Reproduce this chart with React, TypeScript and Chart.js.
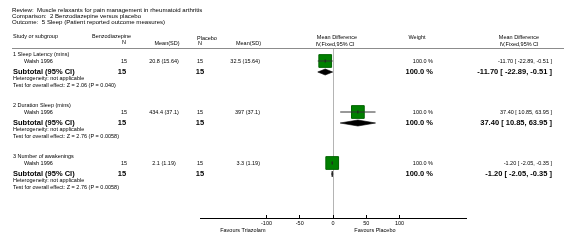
import React, { useEffect, useRef } from "react";
import { Chart, registerables } from "chart.js";

Chart.register(...registerables);

// ---- Data ----
const reviewTitle = "Review:  Muscle relaxants for pain management in rheumatoid arthritis";
const comparisonTitle = "Comparison:  2 Benzodiazepine versus placebo";
const outcomeTitle = "Outcome:  5 Sleep (Patient reported outcome measures)";

const treatLabel = "Benzodiazepine";
const controlLabel = "Placebo";

const subgroups = ["1 Sleep Latency (mins)", "2 Duration Sleep (mins)", "3 Number of awakenings"];
const studyNames = ["Walsh 1996", "Walsh 1996", "Walsh 1996"];
const treatN = [15, 15, 15];
const treatMean = ["20.8", "434.4", "2.1"];
const treatSD = ["15.64", "37.1", "1.19"];
const controlN = [15, 15, 15];
const controlMean = ["32.5", "397", "3.3"];
const controlSD = ["15.64", "37.1", "1.19"];
const meanDiff = [-11.7, 37.4, -1.2];
const ciLow = [-22.89, 10.85, -2.05];
const ciHigh = [-0.51, 63.95, -0.35];
const weights = [100.0, 100.0, 100.0];
const heterogeneityText = ["not applicable", "not applicable", "not applicable"];
const zValues = ["2.06", "2.76", "2.76"];
const pValues = ["0.040", "0.0058", "0.0058"];

const xTicks = [-100, -50, 0, 50, 100];
const leftFavours = "Favours Triazolam";
const rightFavours = "Favours Placebo";

// ---- Layout (row units = px inside plot area) ----
const ROW_FIRST_STUDY = 13;
const ROW_GROUP_STRIDE = 51;
const rowOf = (g: number, off: number) => ROW_FIRST_STUDY + ROW_GROUP_STRIDE * g + off;
const OFF_LABEL = -7;
const OFF_STUDY = 0;
const OFF_SUBTOTAL = 11;
const OFF_HET = 17.5;
const OFF_TEST = 24;
const DIAMOND_HALF = 3;

const FONT_FAMILY = '"Liberation Sans", Arial, Helvetica, sans-serif';
const TITLE = `6.1px ${FONT_FAMILY}`;
const REG = `5.5px ${FONT_FAMILY}`;
const BOLD = `bold 7.5px ${FONT_FAMILY}`;

const fmtCI = (m: number, lo: number, hi: number) =>
  `${m.toFixed(2)} [ ${lo.toFixed(2)}, ${hi.toFixed(2)} ]`;

export default function App() {
  const ref = useRef<HTMLCanvasElement | null>(null);

  useEffect(() => {
    const canvas = ref.current;
    if (!canvas) return;

    const studyRows = subgroups.map((_, g) => rowOf(g, OFF_STUDY));

    const ciDatasets = subgroups.map((_, g) => ({
      type: "scatter" as const,
      label: "ci" + g,
      data: [
        { x: ciLow[g], y: studyRows[g] },
        { x: ciHigh[g], y: studyRows[g] },
      ],
      showLine: true,
      borderColor: "#333333",
      borderWidth: 1,
      pointRadius: 0,
      order: 2,
    }));

    const datasets: any[] = [
      {
        type: "scatter",
        label: "estimate",
        data: subgroups.map((_, g) => ({ x: meanDiff[g], y: studyRows[g] })),
        pointStyle: "line",
        rotation: 90,
        pointRadius: 1.6,
        borderColor: "#222222",
        borderWidth: 1,
        backgroundColor: "#222222",
        order: 1,
      },
      ...ciDatasets,
      {
        type: "scatter",
        label: "squares",
        data: subgroups.map((_, g) => ({ x: meanDiff[g], y: studyRows[g] })),
        pointStyle: "rect",
        pointRadius: subgroups.map((_, g) => 9 * Math.sqrt(weights[g] / 100)),
        backgroundColor: "#008000",
        borderColor: "#006400",
        borderWidth: 1,
        order: 3,
      },
    ];

    const textPlugin = {
      id: "forestText",
      afterDraw(chart: any) {
        const ctx = chart.ctx as CanvasRenderingContext2D;
        const ys = chart.scales.y;
        const xs = chart.scales.x;
        const t = (s: string, x: number, y: number, align: CanvasTextAlign, font: string) => {
          ctx.font = font;
          ctx.textAlign = align;
          ctx.textBaseline = "middle";
          ctx.fillStyle = "#000";
          ctx.fillText(s, x, y);
        };
        ctx.save();

        // diamonds (pooled estimates)
        subgroups.forEach((_, g) => {
          const yv = rowOf(g, OFF_SUBTOTAL);
          ctx.beginPath();
          ctx.moveTo(xs.getPixelForValue(ciLow[g]), ys.getPixelForValue(yv));
          ctx.lineTo(xs.getPixelForValue(meanDiff[g]), ys.getPixelForValue(yv - DIAMOND_HALF));
          ctx.lineTo(xs.getPixelForValue(ciHigh[g]), ys.getPixelForValue(yv));
          ctx.lineTo(xs.getPixelForValue(meanDiff[g]), ys.getPixelForValue(yv + DIAMOND_HALF));
          ctx.closePath();
          ctx.fillStyle = "#000";
          ctx.fill();
          ctx.strokeStyle = "#000";
          ctx.lineWidth = 0.6;
          ctx.stroke();
        });

        // titles
        t(reviewTitle, 12, 10, "left", TITLE);
        t(comparisonTitle, 12, 16, "left", TITLE);
        t(outcomeTitle, 12, 22, "left", TITLE);

        // header
        t("Study or subgroup", 13, 36, "left", REG);
        t(treatLabel, 92, 36, "left", REG);
        t("N", 124, 42.5, "center", REG);
        t("Mean(SD)", 167, 43, "center", REG);
        t(controlLabel, 197, 38, "left", REG);
        t("N", 200, 43, "center", REG);
        t("Mean(SD)", 261, 43, "right", REG);
        t("Mean Difference", 337, 37, "center", REG);
        t("IV,Fixed,95% CI", 335, 44, "center", REG);
        t("Weight", 417, 37, "center", REG);
        t("Mean Difference", 519, 37, "center", REG);
        t("IV,Fixed,95% CI", 519, 44, "center", REG);

        // header rule
        ctx.strokeStyle = "#8c8c8c";
        ctx.lineWidth = 1;
        ctx.beginPath();
        ctx.moveTo(12, ys.top + 0.5);
        ctx.lineTo(564, ys.top + 0.5);
        ctx.stroke();

        subgroups.forEach((name, g) => {
          const yl = ys.getPixelForValue(rowOf(g, OFF_LABEL));
          const yst = ys.getPixelForValue(rowOf(g, OFF_STUDY));
          const ysub = ys.getPixelForValue(rowOf(g, OFF_SUBTOTAL));
          const yh = ys.getPixelForValue(rowOf(g, OFF_HET));
          const yt = ys.getPixelForValue(rowOf(g, OFF_TEST));

          t(name, 13, yl, "left", REG);
          t(studyNames[g], 24, yst, "left", REG);
          t(String(treatN[g]), 124, yst, "center", REG);
          t(`${treatMean[g]} (${treatSD[g]})`, 164, yst, "center", REG);
          t(String(controlN[g]), 200, yst, "center", REG);
          t(`${controlMean[g]} (${controlSD[g]})`, 260, yst, "right", REG);
          t(`${weights[g].toFixed(1)} %`, 433, yst, "right", REG);
          t(fmtCI(meanDiff[g], ciLow[g], ciHigh[g]), 552, yst, "right", REG);

          t("Subtotal (95% CI)", 13, ysub, "left", BOLD);
          t(String(treatN[g]), 122, ysub, "center", BOLD);
          t(String(controlN[g]), 200, ysub, "center", BOLD);
          t(`${weights[g].toFixed(1)} %`, 433, ysub, "right", BOLD);
          t(fmtCI(meanDiff[g], ciLow[g], ciHigh[g]), 552, ysub, "right", BOLD);

          t(`Heterogeneity: ${heterogeneityText[g]}`, 13, yh, "left", REG);
          t(`Test for overall effect: Z = ${zValues[g]} (P = ${pValues[g]})`, 13, yt, "left", REG);
        });

        // favours labels
        t(leftFavours, xs.getPixelForValue(-100) - 1, 230, "right", REG);
        t(rightFavours, xs.getPixelForValue(32), 230, "left", REG);

        ctx.restore();
      },
    };

    const chart = new Chart(canvas, {
      type: "scatter",
      data: { datasets },
      options: {
        animation: false,
        responsive: false,
        devicePixelRatio: 1,
        events: [],
        layout: { padding: { left: 200, right: 100, top: 48, bottom: 0 } },
        plugins: { legend: { display: false }, tooltip: { enabled: false }, title: { display: false } },
        scales: {
          x: {
            type: "linear",
            position: "bottom",
            min: -200,
            max: 200,
            afterBuildTicks: (scale: any) => {
              scale.ticks = xTicks.map((v) => ({ value: v }));
            },
            afterFit: (scale: any) => {
              scale.height = 31;
            },
            grid: {
              display: true,
              drawOnChartArea: true,
              drawTicks: true,
              tickLength: -3,
              color: (c: any) => (c.tick && c.tick.value === 0 ? "#b4b4b4" : "rgba(0,0,0,0)"),
              tickColor: "#000",
              lineWidth: 1,
            },
            border: { display: true, color: "#000", width: 1 },
            ticks: {
              color: "#000",
              padding: 5,
              maxRotation: 0,
              autoSkip: false,
              font: { family: FONT_FAMILY, size: 5.5 },
              callback: (v: any) => String(v),
            },
          },
          y: {
            type: "linear",
            display: false,
            min: 0,
            max: 170,
            reverse: true,
          },
        },
      },
      plugins: [textPlugin],
    } as any);

    return () => chart.destroy();
  }, []);

  return (
    <div style={{ position: "absolute", left: 0, top: 0, width: 566, height: 249, background: "#fff" }}>
      <canvas ref={ref} width={566} height={249} style={{ display: "block", width: 566, height: 249 }} />
    </div>
  );
}
